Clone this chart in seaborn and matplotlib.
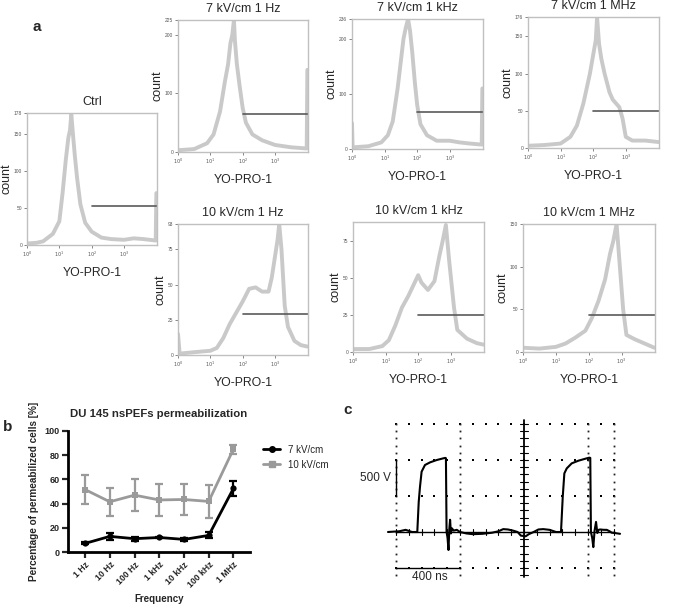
import numpy as np
import pandas as pd
import seaborn as sns
import matplotlib.pyplot as plt
from matplotlib.lines import Line2D
from matplotlib.ticker import LogLocator, NullFormatter

# --- panel a: YO-PRO-1 histograms (log10 intensity, count) ---
ctrl_logx = [0.0, 0.3, 0.5, 0.8, 1.0, 1.1, 1.2, 1.28, 1.33, 1.37, 1.42, 1.48, 1.55, 1.65, 1.8, 2.0, 2.3, 2.6, 3.0, 3.3, 3.6, 3.98, 4.0]
ctrl_count = [2, 3, 5, 15, 32, 70, 115, 145, 155, 176, 150, 120, 90, 55, 30, 18, 10, 8, 7, 9, 8, 6, 70]

hz7_logx = [0.0, 0.5, 0.9, 1.1, 1.3, 1.45, 1.55, 1.62, 1.68, 1.73, 1.76, 1.82, 1.9, 2.0, 2.1, 2.3, 2.6, 3.0, 3.5, 3.98, 4.0]
hz7_count = [3, 5, 15, 30, 69, 120, 150, 185, 200, 225, 190, 150, 115, 75, 50, 30, 20, 12, 8, 6, 140]

khz7_logx = [0.0, 0.02, 0.5, 0.9, 1.1, 1.25, 1.4, 1.5, 1.58, 1.65, 1.72, 1.78, 1.85, 1.93, 2.0, 2.1, 2.3, 2.6, 3.0, 3.3, 3.6, 3.98, 4.0]
khz7_count = [47, 3, 5, 12, 25, 50, 110, 160, 200, 220, 236, 215, 175, 120, 80, 45, 25, 15, 15, 12, 10, 8, 110]

mhz7_logx = [0.0, 0.5, 1.0, 1.3, 1.5, 1.7, 1.9, 2.0, 2.08, 2.12, 2.18, 2.25, 2.35, 2.5, 2.6, 2.7, 2.8, 2.9, 3.0, 3.2, 3.6, 4.0]
mhz7_count = [3, 4, 6, 15, 30, 60, 100, 125, 145, 176, 140, 120, 100, 75, 65, 60, 55, 40, 15, 10, 10, 8]

hz10_logx = [0.0, 0.05, 0.5, 1.0, 1.2, 1.4, 1.6, 1.8, 2.0, 2.2, 2.4, 2.6, 2.8, 2.9, 3.0, 3.08, 3.13, 3.2, 3.3, 3.4, 3.6, 3.8, 4.0]
hz10_count = [15, 1, 2, 3, 5, 12, 22, 30, 38, 47, 48, 45, 45, 55, 70, 82, 93, 75, 35, 20, 10, 7, 6]

khz10_logx = [0.0, 0.5, 0.9, 1.1, 1.3, 1.5, 1.7, 1.85, 2.0, 2.1, 2.3, 2.5, 2.65, 2.75, 2.85, 2.95, 3.1, 3.2, 3.5, 3.8, 4.0]
khz10_count = [2, 2, 4, 8, 18, 30, 38, 45, 52, 47, 42, 48, 65, 75, 86, 62, 30, 15, 9, 6, 5]

mhz10_logx = [0.0, 0.5, 1.0, 1.3, 1.6, 1.9, 2.1, 2.3, 2.5, 2.65, 2.75, 2.85, 2.95, 3.05, 3.15, 3.4, 3.7, 4.0]
mhz10_count = [5, 4, 6, 10, 17, 25, 40, 60, 85, 115, 130, 150, 100, 50, 20, 15, 10, 5]

# gate (marker) level of each histogram
gate_levels = [53, 64, 67, 50, 29, 25, 43]

# --- panel b ---
freqs = ['1 Hz', '10 Hz', '100 Hz', '1 kHz', '10 kHz', '100 kHz', '1 MHz']
perm_7 = [7.1, 12.9, 11.0, 12.0, 10.4, 13.7, 52.5]
err_7 = [0.8, 3.0, 1.5, 0.6, 1.5, 2.5, 6.5]
perm_10 = [51.6, 41.5, 47.0, 43.0, 43.4, 41.8, 85.0]
err_10 = [11.7, 11.8, 13.0, 13.3, 12.7, 13.4, 3.7]

# --- panel c: oscilloscope trace ---
t_ns = [-850, -780, -740, -700, -667, -658, -650, -640, -619, -587, -546, -504, -492, -488, -484, -478,
        -472, -467, -462, -457, -450, -440, -420, -400, -360, -320, -260, -200, -160, -130, -100, -70,
        -40, -20, 10, 30, 60, 90, 120, 160, 200, 231, 242, 252, 267, 298, 340, 392, 408, 414, 418, 426,
        433, 441, 450, 458, 466, 475, 500, 517, 535, 548, 570, 600]
volts = [0, 10, 30, 0, 0, 420, 630, 838, 931, 968, 1000, 1024, 1030, 1025, 0, -80,
         -250, 40, 170, -20, 50, 20, 30, 0, -20, -30, -25, -10, 10, 40, 35, 20,
         0, -50, -60, -30, 0, 35, 40, 30, 0, 0, 491, 815, 884, 954, 991, 1024, 1033, 1030, 0, -80,
         -210, 20, 140, -14, 30, 35, 30, 30, 10, -10, -15, -25]

sns.set_style("white")
plt.rcParams['font.family'] = ['Liberation Sans', 'DejaVu Sans']

W, H = 677, 608
fig = plt.figure(figsize=(W / 100, H / 100), dpi=100)


def box(l, t, r, b):
    return fig.add_axes([l / W, 1 - b / H, (r - l) / W, (b - t) / H])


hist_gray = '#c9c9c9'
panels = [
    ('Ctrl', ctrl_logx, ctrl_count, (27, 113, 157, 245), 178, [0, 50, 100, 150, 178]),
    ('7 kV/cm 1 Hz', hz7_logx, hz7_count, (178, 20, 308, 152), 225, [0, 100, 200, 225]),
    ('7 kV/cm 1 kHz', khz7_logx, khz7_count, (352, 19, 483, 149), 236, [0, 100, 200, 236]),
    ('7 kV/cm 1 MHz', mhz7_logx, mhz7_count, (528, 17, 659, 148), 176, [0, 50, 100, 150, 176]),
    ('10 kV/cm 1 Hz', hz10_logx, hz10_count, (178, 224, 308, 355), 93, [0, 25, 50, 75, 93]),
    ('10 kV/cm 1 kHz', khz10_logx, khz10_count, (353, 222, 484, 352), 88, [0, 25, 50, 75]),
    ('10 kV/cm 1 MHz', mhz10_logx, mhz10_count, (523, 224, 655, 352), 150, [0, 50, 100, 150]),
]

for (title, lx, cnt, rect, top, yt), gate in zip(panels, gate_levels):
    ax = box(*rect)
    x = 10 ** np.array(lx)
    sns.lineplot(x=x, y=cnt, ax=ax, color=hist_gray, linewidth=2.8, estimator=None)
    ax.plot([100, 10 ** 4.02], [gate, gate], color='#5a5a5a', lw=1.2)
    ax.set_xscale('log')
    ax.set_xlim(1, 10 ** 4.02)
    ax.set_ylim(0, top)
    ax.set_xticks([1, 10, 100, 1000])
    ax.set_xticklabels(['$10^0$', '$10^1$', '$10^2$', '$10^3$'])
    ax.xaxis.set_minor_locator(LogLocator(base=10, subs=np.arange(2, 10)))
    ax.xaxis.set_minor_formatter(NullFormatter())
    ax.set_yticks(yt)
    ax.tick_params(which='major', length=2, width=0.5, labelsize=3.5, colors='#555555', pad=1.5)
    ax.tick_params(which='minor', length=1, width=0.4, colors='#777777')
    ax.tick_params(axis='both', bottom=True, left=True)
    for s in ax.spines.values():
        s.set_color('#c0c0c0')
        s.set_linewidth(1.0)
    ax.set_title(title, fontsize=9, pad=6)
    ax.set_ylabel('count', fontsize=9, labelpad=1)
    ax.set_xlabel('YO-PRO-1', fontsize=8.8, labelpad=6)

fig.text(37 / W, 1 - 27 / H, 'a', fontsize=11, fontweight='bold', ha='center', va='center')
fig.text(8 / W, 1 - 427 / H, 'b', fontsize=11, fontweight='bold', ha='center', va='center')
fig.text(348 / W, 1 - 410 / H, 'c', fontsize=11, fontweight='bold', ha='center', va='center')

# --- panel b ---
axb = box(68, 431, 250, 552)
pos = np.arange(len(freqs))
df = pd.DataFrame({
    'pos': np.concatenate([pos, pos]),
    'value': perm_10 + perm_7,
    'field': ['10 kV/cm'] * len(freqs) + ['7 kV/cm'] * len(freqs),
})
colors = {'10 kV/cm': '#9a9a9a', '7 kV/cm': 'black'}
sns.lineplot(data=df, x='pos', y='value', hue='field', style='field', palette=colors,
             markers={'10 kV/cm': 's', '7 kV/cm': 'o'}, dashes=False, linewidth=2,
             markersize=4.5, markeredgewidth=0, ax=axb, legend=False)
axb.errorbar(pos, perm_10, yerr=err_10, fmt='none', ecolor=colors['10 kV/cm'],
             elinewidth=1.6, capsize=3, capthick=1.6)
axb.errorbar(pos, perm_7, yerr=err_7, fmt='none', ecolor='black',
             elinewidth=1.6, capsize=3, capthick=1.6)
axb.set_xlim(-0.69, 6.67)
axb.set_ylim(0, 100)
axb.set_yticks([0, 20, 40, 60, 80, 100])
axb.set_xticks(pos)
axb.set_xticklabels(freqs, rotation=45, ha='right', rotation_mode='anchor',
                    fontsize=6.3, fontweight='bold')
for lab in axb.get_yticklabels():
    lab.set_fontweight('bold')
    lab.set_fontsize(6.5)
for s in ['top', 'right']:
    axb.spines[s].set_visible(False)
for s in ['left', 'bottom']:
    axb.spines[s].set_linewidth(2)
    axb.spines[s].set_color('black')
axb.tick_params(direction='out', length=4, width=1.6, bottom=True, left=True, pad=2)
axb.set_title('DU 145 nsPEFs permeabilization', fontsize=8.2, fontweight='bold', pad=10)
axb.set_ylabel('Percentage of permeabilized cells [%]', fontsize=7.2, fontweight='bold', labelpad=4)
axb.set_xlabel('Frequency', fontsize=7, fontweight='bold', labelpad=3)
handles = [Line2D([], [], color='black', marker='o', markersize=4, lw=2),
           Line2D([], [], color='#9a9a9a', marker='s', markersize=4, lw=2)]
fig.legend(handles, ['7 kV/cm', '10 kV/cm'], loc='upper left',
           bbox_to_anchor=(254 / W, 1 - 436 / H), frameon=False, fontsize=7,
           handlelength=1.8, labelspacing=0.5)

# --- panel c: scope screen ---
axc = box(380, 415, 625, 580)
axc.set_xlim(-900, 631)
axc.set_ylim(-667, 1626)
axc.axis('off')
row_t = np.arange(-800, 561, 80)
col_v = np.arange(-600, 1501, 100)
for v in [-500, 500, 1000, 1500]:
    axc.plot(row_t, np.full(len(row_t), v), ls='none', marker='s', markersize=1.5,
             markeredgewidth=0, color='black')
for t in [-800, -400, 400, 560]:
    axc.plot(np.full(len(col_v), t), col_v, ls='none', marker='s', markersize=1.3,
             markeredgewidth=0, color='#222222')
axc.plot([0, 0], [-620, 1560], color='black', lw=1.3)
for v in col_v:
    axc.plot([-25, 25], [v, v], color='black', lw=0.8)
axc.plot([-800, 560], [0, 0], color='black', lw=1.0)
for t in row_t:
    axc.plot([t, t], [-35, 35], color='black', lw=0.8)
sns.lineplot(x=t_ns, y=volts, ax=axc, color='black', linewidth=1.5, sort=False, estimator=None)
axc.plot([-800, -800], [500, 1000], color='black', lw=1.0)
axc.plot([-800, -400], [-500, -500], color='black', lw=1.0)
axc.text(-830, 750, '500 V', fontsize=8.5, ha='right', va='center')
axc.text(-590, -545, '400 ns', fontsize=8.5, ha='center', va='top')

fig.savefig('out.png', dpi=100)
